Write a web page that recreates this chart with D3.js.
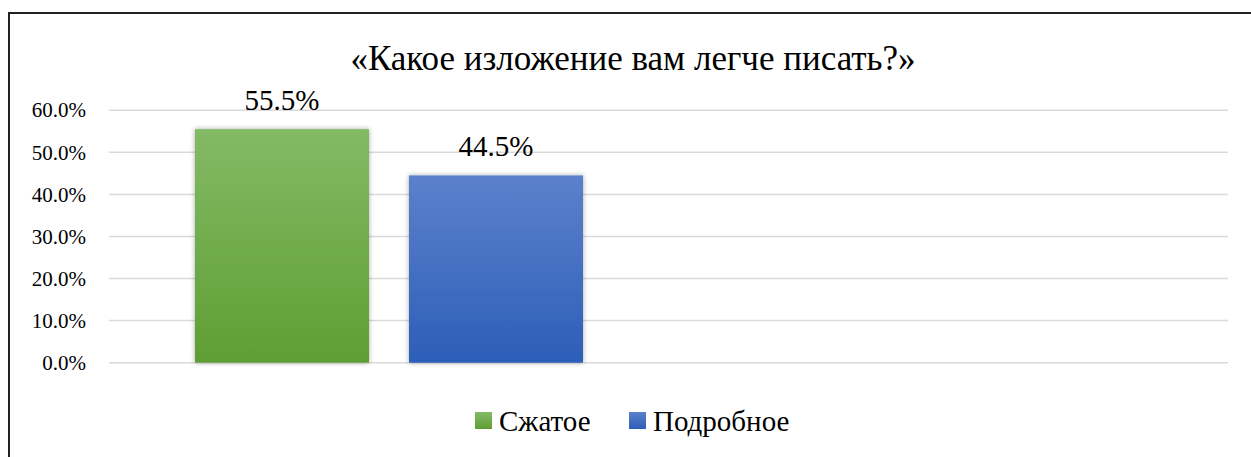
<!DOCTYPE html>
<html><head><meta charset="utf-8">
<script src="https://cdn.jsdelivr.net/npm/d3@7"></script>
<style>body{margin:0;background:#fff}svg{display:block}
svg text{font-family:"Liberation Serif","Times New Roman",Times,Tinos,"DejaVu Serif",serif}</style>
</head><body>
<svg id="c" width="1251" height="457"></svg>
<script>
const title = "«Какое изложение вам легче писать?»";
const categories = ["1", "2"];
const seriesNames = ["Сжатое", "Подробное"];
const seriesValues = [[0.555, null], [0.445, null]];
const yTicks = [0, 0.1, 0.2, 0.3, 0.4, 0.5, 0.6];

const svg = d3.select("#c");
const defs = svg.append("defs");
const grads = [["#83ba65", "#5f9e33"], ["#5c81cb", "#2d5eb8"]];
grads.forEach((g, i) => {
  const lg = defs.append("linearGradient").attr("id", "g" + i).attr("x1", 0).attr("y1", 0).attr("x2", 0).attr("y2", 1);
  lg.append("stop").attr("offset", "0%").attr("stop-color", g[0]);
  lg.append("stop").attr("offset", "100%").attr("stop-color", g[1]);
});
const f = defs.append("filter").attr("id", "sh").attr("x", "-10%").attr("y", "-10%").attr("width", "120%").attr("height", "120%");
f.append("feDropShadow").attr("dx", 0).attr("dy", 0).attr("stdDeviation", 2.5).attr("flood-color", "#000").attr("flood-opacity", 0.35);

// border
svg.append("rect").attr("x", 9).attr("y", 13).attr("width", 1300).attr("height", 500)
  .attr("fill", "none").attr("stroke", "#222").attr("stroke-width", 2);

const x0 = 109, x1 = 1228;
const y = d3.scaleLinear().domain([0, 0.5]).range([362.7, 152.3]);
const xb = d3.scaleBand().domain(categories).range([x0, x1]).paddingInner(0).paddingOuter(0);
const xs = d3.scaleBand().domain(d3.range(seriesNames.length)).range([86, 86 + 388]).paddingInner(40 / 214);

// grid
svg.append("g").selectAll("line").data(yTicks).join("line")
  .attr("x1", x0).attr("x2", x1).attr("y1", d => y(d)).attr("y2", d => y(d))
  .attr("stroke", "#d9d9d9").attr("stroke-width", 1.5);

// y axis labels
const yAxis = d3.axisLeft(y).tickValues(yTicks).tickFormat(d3.format(".1%")).tickSize(0).tickPadding(0);
const ga = svg.append("g").attr("transform", "translate(86,0)").call(yAxis);
ga.select(".domain").remove();
ga.attr("font-family", null);
ga.selectAll("text").attr("font-size", 21).attr("fill", "#000");

// bars
const bars = [];
categories.forEach((c, ci) => seriesNames.forEach((s, si) => {
  const v = seriesValues[si][ci];
  if (v != null) bars.push({ c, si, v });
}));
svg.append("g").selectAll("rect").data(bars).join("rect")
  .attr("x", d => xb(d.c) + xs(d.si)).attr("width", xs.bandwidth())
  .attr("y", d => y(d.v)).attr("height", d => y(0) - y(d.v))
  .attr("fill", d => `url(#g${d.si})`).attr("filter", "url(#sh)");

svg.append("g").selectAll("text").data(bars).join("text")
  .attr("x", d => xb(d.c) + xs(d.si) + xs.bandwidth() / 2).attr("y", d => y(d.v) - 19)
  .attr("text-anchor", "middle").attr("font-size", 29).attr("fill", "#000")
  .text(d => d3.format(".1%")(d.v));

// title
svg.append("text").attr("x", 633).attr("y", 70).attr("text-anchor", "middle")
  .attr("font-size", 35).attr("fill", "#000").text(title);

// legend
const lg = svg.append("g");
const legX = [475, 629];
seriesNames.forEach((s, i) => {
  lg.append("rect").attr("x", legX[i]).attr("y", 412).attr("width", 17).attr("height", 17).attr("fill", `url(#g${i})`);
  lg.append("text").attr("x", legX[i] + 24).attr("y", 431).attr("font-size", 29).attr("fill", "#000").text(s);
});
</script>
</body></html>
